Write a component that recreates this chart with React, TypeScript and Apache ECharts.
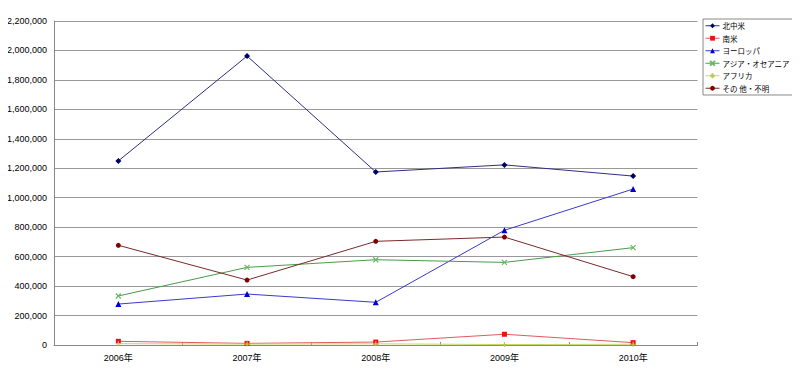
import React, { useEffect, useRef } from "react";
import * as echarts from "echarts";

const categories = ["2006年", "2007年", "2008年", "2009年", "2010年"];
const northCentralAmerica = [1250000, 1962000, 1175000, 1223000, 1147000];
const southAmerica = [25000, 11000, 20000, 73000, 16000];
const europe = [278000, 346000, 290000, 779000, 1059000];
const asiaOceania = [333000, 527000, 579000, 561000, 661000];
const africa = [9000, 6000, 8000, 3000, 5000];
const otherUnknown = [677000, 441000, 704000, 733000, 464000];

const seriesDefs = [
  { name: "北中米", data: northCentralAmerica, line: "#2e2e80", marker: "#000066", symbol: "diamond", size: 6 },
  { name: "南米", data: southAmerica, line: "#e05a5a", marker: "#ee1111", symbol: "rect", size: 5 },
  { name: "ヨーロッパ", data: europe, line: "#3a3acc", marker: "#0000cc", symbol: "triangle", size: 6 },
  { name: "アジア・オセアニア", data: asiaOceania, line: "#4a9a4a", marker: "#66bb66", symbol: "path://M0,0L10,10M10,0L0,10", size: 5 },
  { name: "アフリカ", data: africa, line: "#c8d860", marker: "#bbcc44", symbol: "path://M0,5L10,5M5,0L5,10", size: 5 },
  { name: "その 他・不明", data: otherUnknown, line: "#7a2a2a", marker: "#800000", symbol: "circle", size: 5 },
];

const FONT = "Liberation Sans, Noto Sans CJK JP, sans-serif";

export default function App() {
  const ref = useRef<HTMLDivElement>(null);
  useEffect(() => {
    if (!ref.current) return;
    const chart = echarts.init(ref.current, undefined, { renderer: "svg" });
    chart.setOption({
      animation: false,
      backgroundColor: "#ffffff",
      textStyle: { fontFamily: FONT },
      grid: { left: 54, right: 102.5, top: 21, bottom: 25, containLabel: false },
      legend: {
        orient: "vertical",
        left: 703,
        top: 19,
        itemWidth: 14,
        itemHeight: 6,
        itemGap: 5,
        padding: [3, 7, 3, 2],
        borderColor: "#888888",
        borderWidth: 1,
        lineStyle: { width: 1 },
        textStyle: { fontSize: 7.5, color: "#000000", fontFamily: "Noto Sans CJK JP, sans-serif", padding: [0, 0, 0, -2] },
        data: seriesDefs.map((s) => s.name),
      },
      xAxis: {
        type: "category",
        data: categories,
        boundaryGap: true,
        axisLine: { lineStyle: { color: "#888888" } },
        axisTick: { show: true, length: 3, inside: true, lineStyle: { color: "#888888" } },
        axisLabel: { fontSize: 9, color: "#000000", margin: 8, fontFamily: FONT },
      },
      yAxis: {
        type: "value",
        min: 0,
        max: 2200000,
        interval: 200000,
        axisLine: { show: true, lineStyle: { color: "#888888" } },
        axisTick: { show: false },
        axisLabel: {
          fontSize: 9,
          color: "#000000",
          margin: 7,
          fontFamily: FONT,
          formatter: (v: number) => v.toLocaleString("en-US"),
        },
        splitLine: { lineStyle: { color: "#999999", width: 1 } },
      },
      series: seriesDefs.map((s) => ({
        name: s.name,
        type: "line",
        data: s.data,
        symbol: s.symbol,
        symbolSize: s.size,
        showAllSymbol: true,
        lineStyle: { color: s.line, width: 1 },
        itemStyle: { color: s.marker, borderColor: s.marker, borderWidth: s.symbol.startsWith("path") ? 1.2 : 0 },
        emphasis: { disabled: true },
      })),
    });
    return () => chart.dispose();
  }, []);
  return <div ref={ref} style={{ width: 800, height: 370, margin: -8 }} />;
}
